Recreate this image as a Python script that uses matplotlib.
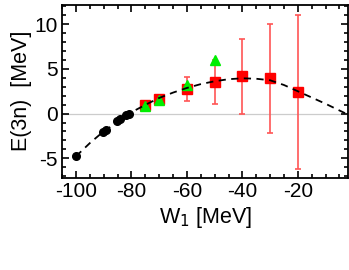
import numpy as np
import matplotlib
matplotlib.use("Agg")
import matplotlib.pyplot as plt
from matplotlib.ticker import MultipleLocator

plt.rcParams['font.family'] = ['Liberation Sans', 'DejaVu Sans']
plt.rcParams['axes.unicode_minus'] = False

# black circles
w_black = [-100, -90.2, -89.2, -85.3, -84.3, -81.9, -80.9]
e_black = [-4.78, -2.05, -1.79, -0.86, -0.6, -0.19, 0.0]

# green triangles
w_green = [-75, -70, -60, -50]
e_green = [0.82, 1.57, 3.25, 6.05]

# red squares with error bars
w_red = [-75, -70, -60, -50, -40, -30, -20]
e_red = [1.0, 1.68, 2.76, 3.55, 4.18, 3.96, 2.39]
err_red = [0.2, 0.15, 1.3, 2.45, 4.2, 6.1, 8.6]

# dashed curve
w_curve = [-100, -95, -90, -85, -80, -75, -70, -65, -60, -55, -50, -45,
           -40, -35, -30, -25, -20, -15, -10, -5, -2]
e_curve = [-4.78, -3.3, -1.98, -0.95, 0.15, 0.98, 1.75, 2.35, 2.87, 3.3,
           3.62, 3.85, 3.95, 3.9, 3.73, 3.2, 2.5, 1.8, 1.1, 0.35, -0.1]

fig = plt.figure(figsize=(3.49, 2.70), dpi=100)
ax = fig.add_axes([0.178, 0.341, 0.82, 0.642])

ax.axhline(0, color='#cccccc', lw=0.9, zorder=0)

ax.errorbar(w_red, e_red, yerr=err_red, fmt='s', color='red', ms=6.5,
            ecolor='#ff5555', elinewidth=1.2, capsize=2.5, capthick=1.2, zorder=2)
ax.plot(w_green, e_green, '^', color='#00ee00', ms=7, zorder=3)
ax.plot(w_black, e_black, 'o', color='black', ms=5.5, zorder=3)
ax.plot(w_curve, e_curve, '--', color='black', lw=1.3, dashes=(4, 3), zorder=4)

ax.set_xlim(-105, -1.8)
ax.set_ylim(-7.2, 12.2)
ax.xaxis.set_major_locator(MultipleLocator(20))
ax.xaxis.set_minor_locator(MultipleLocator(5))
ax.yaxis.set_major_locator(MultipleLocator(5))
ax.yaxis.set_minor_locator(MultipleLocator(1))
ax.tick_params(which='both', direction='in', top=True, right=True,
               labelsize=15, width=1.2, pad=3)
ax.tick_params(which='major', length=5)
ax.tick_params(which='minor', length=3)
for s in ax.spines.values():
    s.set_linewidth(1.3)

ax.set_xlabel('W$_1$ [MeV]', fontsize=15.5, labelpad=3)
ax.set_ylabel('E(3n)  [MeV]', fontsize=15.5, labelpad=2)

fig.savefig('out.png', dpi=100)
